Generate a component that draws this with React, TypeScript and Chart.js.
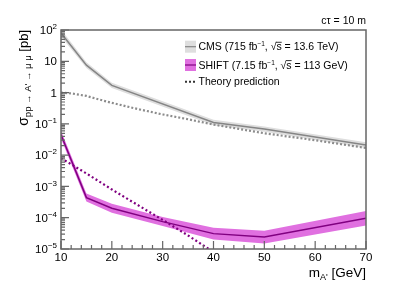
import React, { useEffect, useRef } from "react";
import { Chart, registerables } from "chart.js";

Chart.register(...registerables);

// ---- data ----
const cmsMass = [10, 15, 20, 40, 50, 70];
const cmsLimit = [80, 7.5, 1.7, 0.11, 0.068, 0.021];
const cmsUpper = [105, 9.3, 2.05, 0.135, 0.083, 0.026];
const cmsLower = [62, 6.1, 1.4, 0.09, 0.056, 0.017];

const shiftMass = [10, 15, 20, 30, 40, 50, 70];
const shiftLimit = [0.045, 4.4e-4, 2.0e-4, 7.5e-5, 3.1e-5, 2.4e-5, 9.6e-5];
const shiftUpper = [0.06, 5.9e-4, 2.8e-4, 1.05e-4, 4.8e-5, 3.8e-5, 1.65e-4];
const shiftLower = [0.034, 3.3e-4, 1.45e-4, 5.4e-5, 2.0e-5, 1.5e-5, 5.6e-5];

const theoryCmsMass = [10, 12, 15, 17.5, 20, 25, 30, 35, 40, 50, 60, 70];
const theoryCms = [1.0, 0.94, 0.78, 0.6, 0.47, 0.3, 0.2, 0.14, 0.095, 0.05, 0.03, 0.017];

const theoryShiftMass = [10, 15, 20, 25, 30, 35, 40];
const theoryShift = [8e-3, 2.6e-3, 8e-4, 2.6e-4, 8.5e-5, 2.7e-5, 8e-6];

const xTickValues = [10, 20, 30, 40, 50, 60, 70];
const xTickLabels = ["10", "20", "30", "40", "50", "60", "70"];
const yTickExponents = [-5, -4, -3, -2, -1, 0, 1, 2];
const yTickBases = ["10", "10", "10", "10", "10", "1", "10", "10"];
const yTickSups = ["\u22125", "\u22124", "\u22123", "\u22122", "\u22121", "", "", "2"];

const FONT = '"Liberation Sans", Arial, Helvetica, sans-serif';
const FRAME = "#666666";
const GRAY_LINE = "#858585";
const GRAY_BAND = "#dedede";
const GRAY_DOT = "#8c8c8c";
const PURPLE = "#800080";
const MAGENTA_BAND = "#e070e0";

type Seg = { t: string; size: number; dy?: number; over?: boolean };

function segWidth(ctx: CanvasRenderingContext2D, segs: Seg[]) {
  let w = 0;
  for (const s of segs) {
    ctx.font = `${s.size}px ${FONT}`;
    w += ctx.measureText(s.t).width;
  }
  return w;
}

function drawRich(
  ctx: CanvasRenderingContext2D,
  segs: Seg[],
  x: number,
  y: number,
  align: "left" | "right" | "center",
  color: string
) {
  const w = segWidth(ctx, segs);
  let cx = align === "left" ? x : align === "right" ? x - w : x - w / 2;
  ctx.fillStyle = color;
  ctx.strokeStyle = color;
  ctx.textAlign = "left";
  ctx.textBaseline = "alphabetic";
  for (const s of segs) {
    ctx.font = `${s.size}px ${FONT}`;
    const sw = ctx.measureText(s.t).width;
    ctx.fillText(s.t, cx, y + (s.dy || 0));
    if (s.over) {
      ctx.lineWidth = 0.8;
      ctx.beginPath();
      const oy = y + (s.dy || 0) - s.size * 0.78;
      ctx.moveTo(cx - 0.5, oy);
      ctx.lineTo(cx + sw, oy);
      ctx.stroke();
    }
    cx += sw;
  }
}

const overlay = {
  id: "overlay",
  afterDraw(chart: any) {
    const ctx: CanvasRenderingContext2D = chart.ctx;
    const { left, right, top, bottom } = chart.chartArea;
    const xs = chart.scales.x;
    const ys = chart.scales.y;
    ctx.save();

    // frame
    ctx.strokeStyle = FRAME;
    ctx.lineWidth = 1.5;
    ctx.strokeRect(left, top, right - left, bottom - top);

    // x ticks (inward)
    ctx.lineWidth = 1.2;
    ctx.beginPath();
    for (let v = xs.min; v <= xs.max + 1e-9; v += 2) {
      const px = xs.getPixelForValue(v);
      const major = xTickValues.includes(v);
      ctx.moveTo(px, bottom);
      ctx.lineTo(px, bottom - (major ? 8 : 4));
    }
    // y ticks (inward)
    for (const e of yTickExponents) {
      for (let m = 1; m <= 9; m++) {
        const v = m * Math.pow(10, e);
        if (v > ys.max * 1.0001) break;
        const py = ys.getPixelForValue(v);
        ctx.moveTo(left, py);
        ctx.lineTo(left + (m === 1 ? 8 : 4), py);
      }
    }
    ctx.stroke();

    // x tick labels
    const tf = 11.5;
    xTickValues.forEach((v, i) => {
      const px = xs.getPixelForValue(v);
      drawRich(ctx, [{ t: xTickLabels[i], size: tf }], px, bottom + 4 + tf * 0.72, "center", "#000");
    });
    // y tick labels
    yTickExponents.forEach((e, i) => {
      const py = ys.getPixelForValue(Math.pow(10, e));
      const segs: Seg[] = [{ t: yTickBases[i], size: tf }];
      if (yTickSups[i]) segs.push({ t: yTickSups[i], size: 8, dy: -5 });
      drawRich(ctx, segs, left - 4, py + tf * 0.36, "right", "#000");
    });

    // x axis title
    drawRich(
      ctx,
      [
        { t: "m", size: 13.5 },
        { t: "A'", size: 9, dy: 3 },
        { t: " [GeV]", size: 13.5 },
      ],
      right,
      277,
      "right",
      "#000"
    );

    // y axis title (rotated)
    ctx.save();
    ctx.translate(28, top);
    ctx.rotate(-Math.PI / 2);
    drawRich(
      ctx,
      [
        { t: "\u03c3", size: 14 },
        { t: "pp \u2192 A' \u2192 \u03bc \u03bc", size: 9.5, dy: 3 },
        { t: " [pb]", size: 13 },
      ],
      0,
      0,
      "right",
      "#000"
    );
    ctx.restore();

    // c tau label
    drawRich(ctx, [{ t: "c\u03c4 = 10 m", size: 10.5 }], right, 24, "right", "#000");

    // legend
    const lx = 185;
    const lw = 11;
    const rows = [46.7, 65, 81.7];
    // CMS
    ctx.fillStyle = GRAY_BAND;
    ctx.fillRect(lx, rows[0] - 6, lw, 12);
    ctx.strokeStyle = GRAY_LINE;
    ctx.lineWidth = 1.2;
    ctx.beginPath();
    ctx.moveTo(lx, rows[0]);
    ctx.lineTo(lx + lw, rows[0]);
    ctx.stroke();
    // SHIFT
    ctx.fillStyle = MAGENTA_BAND;
    ctx.fillRect(lx, rows[1] - 6, lw, 12);
    ctx.strokeStyle = PURPLE;
    ctx.beginPath();
    ctx.moveTo(lx, rows[1]);
    ctx.lineTo(lx + lw, rows[1]);
    ctx.stroke();
    // theory
    ctx.strokeStyle = "#333";
    ctx.lineWidth = 2;
    ctx.setLineDash([2, 2]);
    ctx.beginPath();
    ctx.moveTo(lx, rows[2]);
    ctx.lineTo(lx + lw, rows[2]);
    ctx.stroke();
    ctx.setLineDash([]);

    const lf = 10.5;
    const tx = 198.5;
    drawRich(
      ctx,
      [
        { t: "CMS (715 fb", size: lf },
        { t: "\u22121", size: 6.5, dy: -4 },
        { t: ", ", size: lf },
        { t: "\u221a", size: lf },
        { t: "s", size: lf, over: true },
        { t: " = 13.6 TeV)", size: lf },
      ],
      tx,
      rows[0] + lf * 0.36,
      "left",
      "#000"
    );
    drawRich(
      ctx,
      [
        { t: "SHIFT (7.15 fb", size: lf },
        { t: "\u22121", size: 6.5, dy: -4 },
        { t: ", ", size: lf },
        { t: "\u221a", size: lf },
        { t: "s", size: lf, over: true },
        { t: " = 113 GeV)", size: lf },
      ],
      tx,
      rows[1] + lf * 0.36,
      "left",
      "#000"
    );
    drawRich(ctx, [{ t: "Theory prediction", size: lf }], tx, rows[2] + lf * 0.36, "left", "#000");

    ctx.restore();
  },
};

function pts(xs: number[], ys: number[]) {
  return xs.map((x, i) => ({ x, y: ys[i] }));
}

export default function App() {
  const ref = useRef<HTMLCanvasElement | null>(null);
  useEffect(() => {
    if (!ref.current) return;
    const none = "rgba(0,0,0,0)";
    const chart = new Chart(ref.current, {
      type: "line",
      data: {
        datasets: [
          { label: "cmsLow", data: pts(cmsMass, cmsLower), borderColor: none, borderWidth: 0, pointRadius: 0, fill: false, order: 10 },
          { label: "cmsUp", data: pts(cmsMass, cmsUpper), borderColor: none, borderWidth: 0, pointRadius: 0, fill: "-1", backgroundColor: GRAY_BAND, order: 10 },
          { label: "shiftLow", data: pts(shiftMass, shiftLower), borderColor: none, borderWidth: 0, pointRadius: 0, fill: false, order: 10 },
          { label: "shiftUp", data: pts(shiftMass, shiftUpper), borderColor: none, borderWidth: 0, pointRadius: 0, fill: "-1", backgroundColor: MAGENTA_BAND, order: 10 },
          { label: "CMS", data: pts(cmsMass, cmsLimit), borderColor: GRAY_LINE, borderWidth: 1.5, pointRadius: 0, fill: false, order: 1 },
          { label: "SHIFT", data: pts(shiftMass, shiftLimit), borderColor: PURPLE, borderWidth: 1.5, pointRadius: 0, fill: false, order: 1 },
          { label: "Theory CMS", data: pts(theoryCmsMass, theoryCms), borderColor: GRAY_DOT, borderWidth: 2.2, borderDash: [2, 2], pointRadius: 0, fill: false, order: 2 },
          { label: "Theory SHIFT", data: pts(theoryShiftMass, theoryShift), borderColor: PURPLE, borderWidth: 2.2, borderDash: [2, 2.5], pointRadius: 0, fill: false, order: 2 },
        ] as any,
      },
      options: {
        animation: false,
        responsive: true,
        maintainAspectRatio: false,
        layout: { padding: { left: 61, right: 41, top: 30, bottom: 45 } },
        plugins: { legend: { display: false }, tooltip: { enabled: false } },
        elements: { line: { tension: 0 } },
        scales: {
          x: { type: "linear", min: 10, max: 70, display: false },
          y: { type: "logarithmic", min: 1e-5, max: 100, display: false },
        },
      } as any,
      plugins: [overlay],
    });
    return () => chart.destroy();
  }, []);
  return (
    <div style={{ position: "absolute", left: 0, top: 0, width: 407, height: 294, background: "#fff" }}>
      <canvas ref={ref} />
    </div>
  );
}
